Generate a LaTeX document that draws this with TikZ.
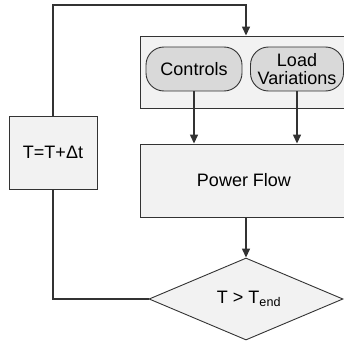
\documentclass[tikz,border=0pt]{standalone}
\usepackage{fontspec}
\setmainfont{Liberation Sans}
\usepackage{tikz}
\usetikzlibrary{shapes.geometric,arrows.meta}

\definecolor{boxfill}{HTML}{F2F2F2}
\definecolor{pillfill}{HTML}{D9D9D9}
\definecolor{linegray}{HTML}{333333}

\tikzset{
  flowbox/.style={draw=linegray, line width=0.9pt, fill=boxfill, inner sep=0pt},
  pill/.style={draw=linegray, line width=0.9pt, fill=pillfill, rounded corners=18pt,
               inner sep=0pt, align=center, minimum height=44pt},
  decide/.style={draw=linegray, line width=0.9pt, fill=boxfill, diamond, inner sep=0pt,
                 aspect=2.37, minimum width=194pt, minimum height=82pt},
  link/.style={draw=linegray, line width=1.4pt},
  flowarrow/.style={link, -{Triangle[width=8pt,length=9pt]}}
}

\begin{document}
\begin{tikzpicture}[x=1pt, y=-1pt, font=\fontsize{18}{18}\selectfont]
        \clip (0,0) rectangle (344,342);                                     %frame
        \node [flowbox, minimum width=88pt, minimum height=73pt]  (step)    at (53,152.5) {T=T+Δt};
        \node [flowbox, minimum width=212pt, minimum height=72pt] (inputs)  at (246,72)   {};
        \node [pill, minimum width=96pt]                          (ctrl)    at (194,69)   {Controls};
        \node [pill, minimum width=93pt]                          (load)    at (297,69)   {Load\\Variations};
        \node [flowbox, minimum width=212pt, minimum height=73pt] (pf)      at (246,180.5){\hspace{-4pt}Power Flow};
        \node [decide]                                            (check)   at (246,299)  {\hspace{6pt}T > T\textsubscript{end}};
        \coordinate (top) at (53,5);                                         %loop corner
        \draw [flowarrow] (ctrl.south) -- (ctrl.south |- pf.north);          %
        \draw [flowarrow] (load.south) -- (load.south |- pf.north);          %
        \draw [flowarrow] (pf.south)   -- (check.north);                     %
        \draw [link]      (check.west) -| (step.south);                      %back
        \draw [flowarrow] (step.north) -- (top) -| (inputs.north);           %next step
\end{tikzpicture}
\end{document}
